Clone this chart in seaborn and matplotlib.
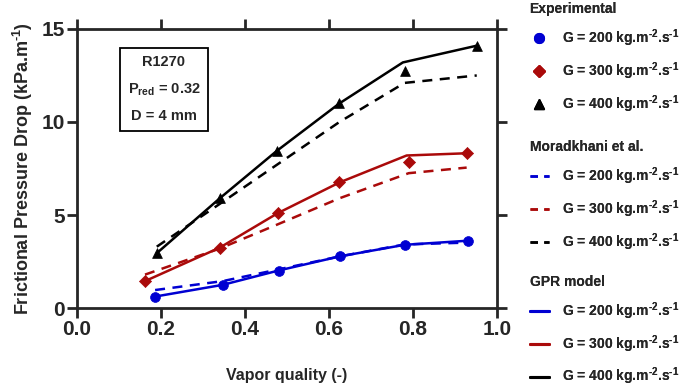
import numpy as np
import pandas as pd
import seaborn as sns
import matplotlib.pyplot as plt
from matplotlib.lines import Line2D

# Values
x_200 = [0.186, 0.347, 0.48, 0.626, 0.78, 0.93]
x_300 = [0.162, 0.34, 0.478, 0.625, 0.79, 0.928]
x_400 = [0.19, 0.34, 0.476, 0.625, 0.78, 0.952]

exp_200 = [0.62, 1.25, 2.02, 2.78, 3.4, 3.62]
exp_300 = [1.45, 3.25, 5.1, 6.75, 7.85, 8.32]
exp_400 = [2.95, 5.9, 8.45, 11.0, 12.75, 14.1]

mor_200 = [0.97, 1.45, 2.08, 2.78, 3.42, 3.52]
mor_300 = [1.8, 3.2, 4.5, 5.9, 7.25, 7.55]
mor_400 = [3.3, 5.6, 7.7, 10.0, 12.1, 12.5]

gpr_x_200 = [0.186, 0.347, 0.48, 0.626, 0.78, 0.93]
gpr_200 = [0.62, 1.25, 2.02, 2.78, 3.4, 3.62]
gpr_x_300 = [0.162, 0.34, 0.478, 0.625, 0.785, 0.928]
gpr_300 = [1.45, 3.25, 5.1, 6.75, 8.2, 8.32]
gpr_x_400 = [0.19, 0.34, 0.476, 0.625, 0.776, 0.952]
gpr_400 = [2.95, 5.9, 8.45, 11.0, 13.2, 14.1]

mass_flux = ["200", "300", "400"]
colors = {"200": "#0000d2", "300": "#aa0a0a", "400": "#000000"}
markers = {"200": "o", "300": "D", "400": "^"}

sns.set_style("ticks")
plt.rcParams['font.family'] = ['Liberation Sans', 'DejaVu Sans']
plt.rcParams['font.weight'] = 'bold'
plt.rcParams['axes.labelweight'] = 'bold'
plt.rcParams['mathtext.fontset'] = 'custom'
plt.rcParams['mathtext.rm'] = 'Liberation Sans:bold'
plt.rcParams['mathtext.it'] = 'Liberation Sans:bold'
plt.rcParams['mathtext.bf'] = 'Liberation Sans:bold'
plt.rcParams['mathtext.sf'] = 'Liberation Sans:bold'

fig = plt.figure(figsize=(6.85, 3.91), dpi=100)
ax = fig.add_axes([0.1124, 0.212, 0.613, 0.714])

series = {
    "200": (x_200, exp_200, mor_200, gpr_x_200, gpr_200),
    "300": (x_300, exp_300, mor_300, gpr_x_300, gpr_300),
    "400": (x_400, exp_400, mor_400, gpr_x_400, gpr_400),
}

for g in mass_flux:
    xs, ex, mo, gx, gp = series[g]
    c = colors[g]
    sns.lineplot(x=xs, y=mo, ax=ax, color=c, lw=1.8, linestyle=(0, (4, 3)),
                 sort=False, legend=False)
    sns.lineplot(x=gx, y=gp, ax=ax, color=c, lw=1.8, sort=False, legend=False)
    ms = 50 if markers[g] != "D" else 38
    sns.scatterplot(x=xs, y=ex, ax=ax, color=c, marker=markers[g], s=ms,
                    edgecolor=c, linewidth=0.5, legend=False, zorder=5)

ax.set_xlim(0, 1.0)
ax.set_ylim(0, 15)
ax.set_xticks([0.0, 0.2, 0.4, 0.6, 0.8, 1.0])
ax.set_yticks([0, 5, 10, 15])
ax.xaxis.set_major_formatter(plt.FormatStrFormatter('%.1f'))
for sp in ax.spines.values():
    sp.set_linewidth(2)
    sp.set_visible(True)
ax.tick_params(axis='both', which='major', direction='out', length=7, width=2,
               labelsize=15, top=True, right=True, pad=1.5)
for lab in ax.get_xticklabels() + ax.get_yticklabels():
    lab.set_fontweight('bold')

ax.set_xlabel("Vapor quality (-)", fontsize=11.5, labelpad=21)
ax.set_ylabel("Frictional Pressure Drop (kPa.m$^{\\text{-1}}$)", fontsize=13, labelpad=5)

# info box
ax.text(0.207, 11.75, "R1270\n\nP$_{\\text{red}}$ = 0.32\n\nD = 4 mm",
        ha='center', va='center', fontsize=10.5, fontweight='bold', linespacing=0.9,
        bbox=dict(boxstyle='square,pad=0.5', facecolor='white', edgecolor='black', lw=1.3))

lab = {g: "G = %s kg.m$^{\\text{-2}}$.s$^{\\text{-1}}$" % g for g in mass_flux}

exp_h = [Line2D([], [], color=colors[g], marker=markers[g], linestyle='none',
                markersize=7 if markers[g] != "D" else 6) for g in mass_flux]
mor_h = [Line2D([], [], color=colors[g], lw=1.8, linestyle=(0, (3, 2.5))) for g in mass_flux]
gpr_h = [Line2D([], [], color=colors[g], lw=2.2) for g in mass_flux]

tops = [1.008, 0.655, 0.31]
titles = ["Experimental", "Moradkhani et al.", "GPR model"]
for hs, t, y in zip([exp_h, mor_h, gpr_h], titles, tops):
    leg = fig.legend(hs, [lab[g] for g in mass_flux], title=t, loc='upper left',
                     bbox_to_anchor=(0.765, y), frameon=False, fontsize=10,
                     handlelength=1.4, handletextpad=0.9, labelspacing=0.8,
                     borderaxespad=0, alignment='left',
                     title_fontproperties={'weight': 'bold', 'size': 10})
    fig.add_artist(leg)

fig.savefig("out.png", dpi=100)
